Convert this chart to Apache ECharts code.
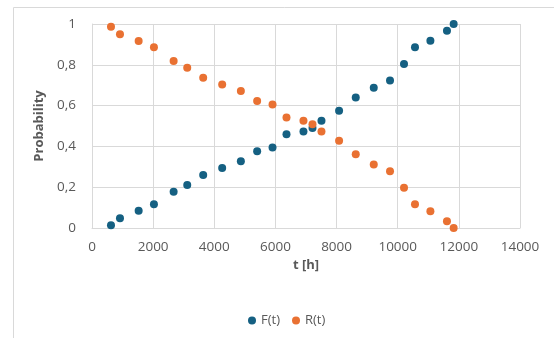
<!DOCTYPE html>
<html><head><meta charset="utf-8">
<script src="https://cdn.jsdelivr.net/npm/echarts@6/dist/echarts.min.js"></script>
<style>html,body{margin:0;padding:0;background:#fff}#c{width:554px;height:338px}</style>
</head><body><div id="c"></div>
<script>
const tHours = [621, 915, 1526, 2026, 2670, 3115, 3637, 4258, 4869, 5402, 5905, 6362, 6917, 7212, 7506, 8082, 8627, 9216, 9748, 10206, 10565, 11069, 11611, 11830];
const fValues = [0.014, 0.048, 0.084, 0.116, 0.178, 0.211, 0.26, 0.294, 0.327, 0.376, 0.394, 0.459, 0.473, 0.49, 0.526, 0.575, 0.64, 0.687, 0.723, 0.804, 0.886, 0.918, 0.967, 1.0];
const rValues = [0.987, 0.95, 0.917, 0.886, 0.819, 0.785, 0.736, 0.703, 0.671, 0.623, 0.605, 0.542, 0.526, 0.508, 0.473, 0.428, 0.361, 0.311, 0.278, 0.197, 0.116, 0.082, 0.033, 0.0];
const seriesNames = ['F(t)', 'R(t)'];
const xTitle = 't [h]';
const yTitle = 'Probability';

const chart = echarts.init(document.getElementById('c'), null, {renderer: 'canvas'});
const font = '"Open Sans", sans-serif';
chart.setOption({
  animation: false,
  textStyle: {fontFamily: font},
  graphic: [{type: 'rect', left: 11, top: 5, shape: {width: 700, height: 500}, style: {fill: 'none', stroke: '#d9d9d9', lineWidth: 1}, silent: true}],
  grid: {left: 92, right: 34, top: 24, bottom: 110},
  legend: {
    data: seriesNames, left: 243, top: 309, icon: 'circle', itemWidth: 8, itemHeight: 8, itemGap: 12,
    textStyle: {color: '#595959', fontSize: 13, fontFamily: font}
  },
  xAxis: {
    type: 'value', min: 0, max: 14000, interval: 2000,
    name: xTitle, nameLocation: 'middle', nameGap: 31,
    nameTextStyle: {color: '#595959', fontSize: 13, fontWeight: 'bold', fontFamily: font},
    axisLine: {show: true, lineStyle: {color: '#d9d9d9'}},
    axisTick: {show: false},
    axisLabel: {color: '#595959', fontSize: 13.5, margin: 12, fontFamily: font, formatter: v => String(v)},
    splitLine: {show: true, lineStyle: {color: '#d9d9d9'}}
  },
  yAxis: {
    type: 'value', min: 0, max: 1, interval: 0.2,
    name: yTitle, nameLocation: 'middle', nameGap: 44,
    nameTextStyle: {color: '#595959', fontSize: 13, fontWeight: 'bold', fontFamily: font},
    axisLine: {show: true, lineStyle: {color: '#d9d9d9'}},
    axisTick: {show: false},
    axisLabel: {color: '#595959', fontSize: 13.5, margin: 16, fontFamily: font,
      formatter: v => String(Math.round(v * 10) / 10).replace('.', ',')},
    splitLine: {show: true, lineStyle: {color: '#d9d9d9'}}
  },
  series: [
    {name: seriesNames[0], type: 'scatter', symbolSize: 8, itemStyle: {color: '#156082', opacity: 1},
     data: tHours.map((t, i) => [t, fValues[i]])},
    {name: seriesNames[1], type: 'scatter', symbolSize: 8, itemStyle: {color: '#E97132', opacity: 1},
     data: tHours.map((t, i) => [t, rValues[i]])}
  ]
});
</script></body></html>
